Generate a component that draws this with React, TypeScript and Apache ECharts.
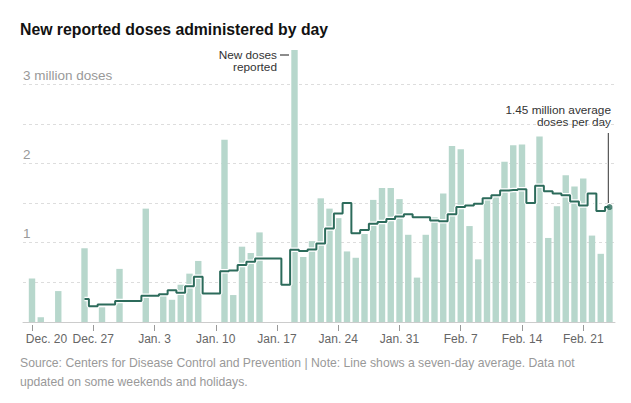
import React, { useEffect, useRef } from "react";
import * as echarts from "echarts";

// One entry per day, Dec. 20 through Feb. 24
const dates = [
  "Dec. 20", "Dec. 21", "Dec. 22", "Dec. 23", "Dec. 24", "Dec. 25", "Dec. 26",
  "Dec. 27", "Dec. 28", "Dec. 29", "Dec. 30", "Dec. 31", "Jan. 1", "Jan. 2",
  "Jan. 3", "Jan. 4", "Jan. 5", "Jan. 6", "Jan. 7", "Jan. 8", "Jan. 9",
  "Jan. 10", "Jan. 11", "Jan. 12", "Jan. 13", "Jan. 14", "Jan. 15", "Jan. 16",
  "Jan. 17", "Jan. 18", "Jan. 19", "Jan. 20", "Jan. 21", "Jan. 22", "Jan. 23",
  "Jan. 24", "Jan. 25", "Jan. 26", "Jan. 27", "Jan. 28", "Jan. 29", "Jan. 30",
  "Jan. 31", "Feb. 1", "Feb. 2", "Feb. 3", "Feb. 4", "Feb. 5", "Feb. 6",
  "Feb. 7", "Feb. 8", "Feb. 9", "Feb. 10", "Feb. 11", "Feb. 12", "Feb. 13",
  "Feb. 14", "Feb. 15", "Feb. 16", "Feb. 17", "Feb. 18", "Feb. 19", "Feb. 20",
  "Feb. 21", "Feb. 22", "Feb. 23", "Feb. 24",
];

// New doses reported (millions); null = no data reported
const newDoses: (number | null)[] = [
  0.55, 0.06, null, 0.39, null, null, 0.93,
  null, 0.185, null, 0.67, null, null, 1.43,
  null, 0.33, 0.28, 0.47, 0.61, 0.77, null,
  null, 2.30, 0.34, 0.95, 0.87, 1.13, null,
  null, null, 3.43, 0.82, 1.02, 1.56, 1.43,
  1.31, 0.89, 0.81, 1.11, 1.54, 1.69, 1.69,
  1.55, 1.10, 0.56, 1.10, 1.32, 1.62, 2.22,
  2.18, 1.21, 0.79, 1.57, 1.61, 2.02, 2.23,
  2.24, null, 2.34, 1.06, 1.46, 1.85, 1.71,
  1.81, 1.09, 0.86, 1.44,
];

// Seven-day average (millions)
const sevenDayAvg: (number | null)[] = [
  null, null, null, null, null, null, 0.29,
  0.20, 0.22, 0.22, 0.265, 0.265, 0.265, 0.33,
  0.33, 0.35, 0.40, 0.37, 0.45, 0.57, 0.36,
  0.36, 0.64, 0.65, 0.72, 0.76, 0.80, 0.80,
  0.80, 0.47, 0.91, 0.895, 0.915, 0.99, 1.18,
  1.37, 1.50, 1.12, 1.16, 1.24, 1.26, 1.30,
  1.33, 1.36, 1.32, 1.32, 1.28, 1.27, 1.36,
  1.45, 1.47, 1.49, 1.56, 1.60, 1.66, 1.665,
  1.675, 1.50, 1.72, 1.65, 1.62, 1.60, 1.52,
  1.47, 1.62, 1.40, 1.45,
];

const tickLabels = [
  "Dec. 20", "Dec. 27", "Jan. 3", "Jan. 10", "Jan. 17",
  "Jan. 24", "Jan. 31", "Feb. 7", "Feb. 14", "Feb. 21",
];

const yLabels: Record<string, string> = { "1": "1", "2": "2", "3": "3 million doses" };

const SANS = "'Liberation Sans', Arial, sans-serif";

export default function App() {
  const ref = useRef<HTMLDivElement>(null);

  useEffect(() => {
    if (!ref.current) return;
    const chart = echarts.init(ref.current, undefined, { renderer: "svg" });

    const tickDays = tickLabels.map((l) => dates.indexOf(l));
    const barData = newDoses
      .map((v, i) => (v == null ? null : [i, v]))
      .filter((d) => d !== null);
    const lineData = sevenDayAvg
      .map((v, i) => (v == null ? null : [i, v]))
      .filter((d) => d !== null) as number[][];
    const last = lineData[lineData.length - 1];

    const xMin = -1.03;
    const xMax = 66.63;

    chart.setOption({
      animation: false,
      grid: { left: 23, right: 16, top: 44.5, bottom: 81 },
      xAxis: [
        {
          type: "value",
          min: xMin,
          max: xMax,
          position: "bottom",
          axisLine: { show: true, lineStyle: { color: "#cccccc", width: 1 } },
          axisTick: { show: false },
          axisLabel: { show: false },
          splitLine: { show: false },
        },
        {
          type: "value",
          min: xMin,
          max: xMax,
          position: "bottom",
          offset: 3,
          axisLine: { show: false },
          axisTick: {
            show: true,
            customValues: tickDays,
            length: 6,
            lineStyle: { color: "#999999", width: 1 },
          },
          axisLabel: {
            show: true,
            customValues: tickDays,
            showMinLabel: true,
            showMaxLabel: true,
            hideOverlap: false,
            margin: 8,
            color: "#666666",
            fontFamily: SANS,
            fontSize: 12,
            formatter: (v: number) => {
              const idx = tickDays.indexOf(Math.round(v));
              if (idx < 0) return "";
              return idx === 0 ? `{first|${tickLabels[idx]}}` : tickLabels[idx];
            },
            rich: {
              first: {
                padding: [0, 0, 0, 29],
                color: "#666666",
                fontFamily: SANS,
                fontSize: 12,
              },
            },
          },
          splitLine: { show: false },
        },
      ],
      yAxis: {
        type: "value",
        min: 0,
        max: 3.5,
        interval: 0.5,
        axisLine: { show: false },
        axisTick: { show: false },
        splitLine: {
          show: true,
          showMinLine: false,
          showMaxLine: false,
          lineStyle: { color: "#dddddd", type: [3, 3], width: 1 },
        },
        axisLabel: {
          inside: true,
          margin: 0,
          verticalAlign: "bottom",
          padding: [0, 0, 2, 0],
          color: "#999999",
          fontFamily: SANS,
          fontSize: 13.5,
          formatter: (v: number) => yLabels[String(v)] ?? "",
        },
      },
      series: [
        {
          type: "bar",
          data: barData,
          barWidth: 6.4,
          itemStyle: { color: "#b7d7cc" },
          xAxisIndex: 0,
        },
        {
          type: "line",
          data: lineData,
          step: "middle",
          showSymbol: false,
          lineStyle: { color: "#ffffff", width: 4.5 },
          xAxisIndex: 0,
          z: 3,
        },
        {
          type: "line",
          data: lineData,
          step: "middle",
          showSymbol: false,
          lineStyle: { color: "#2c6b5b", width: 2 },
          xAxisIndex: 0,
          z: 4,
        },
        {
          type: "scatter",
          data: [last],
          symbolSize: 6,
          itemStyle: { color: "#2c6b5b" },
          xAxisIndex: 0,
          z: 5,
        },
      ],
      graphic: [
        {
          type: "text",
          left: 20,
          top: 21,
          style: {
            text: "New reported doses administered by day",
            fontFamily: SANS,
            fontWeight: "bold",
            fontSize: 15.8,
            fill: "#121212",
          },
        },
        {
          type: "text",
          x: 277,
          y: 48.5,
          style: {
            text: "New doses\nreported",
            align: "right",
            verticalAlign: "top",
            lineHeight: 12.5,
            fontFamily: SANS,
            fontSize: 11.8,
            fill: "#333333",
          },
        },
        {
          type: "line",
          shape: { x1: 280, y1: 55, x2: 289, y2: 55 },
          style: { stroke: "#666666", lineWidth: 1.5 },
        },
        {
          type: "text",
          x: 611,
          y: 103.5,
          style: {
            text: "1.45 million average\ndoses per day",
            align: "right",
            verticalAlign: "top",
            lineHeight: 12.5,
            fontFamily: SANS,
            fontSize: 11.8,
            fill: "#333333",
          },
        },
        {
          type: "line",
          shape: { x1: 608.3, y1: 133, x2: 608.3, y2: 203 },
          style: { stroke: "#333333", lineWidth: 1 },
        },
        {
          type: "text",
          x: 20,
          y: 353,
          style: {
            text:
              "Source: Centers for Disease Control and Prevention | Note: Line shows a seven-day average. Data not\nupdated on some weekends and holidays.",
            verticalAlign: "top",
            lineHeight: 19.5,
            fontFamily: SANS,
            fontSize: 12.2,
            fill: "#999999",
          },
        },
      ],
    });

    return () => chart.dispose();
  }, []);

  return (
    <div
      ref={ref}
      style={{ position: "absolute", left: 0, top: 0, width: 631, height: 403, background: "#ffffff" }}
    />
  );
}
